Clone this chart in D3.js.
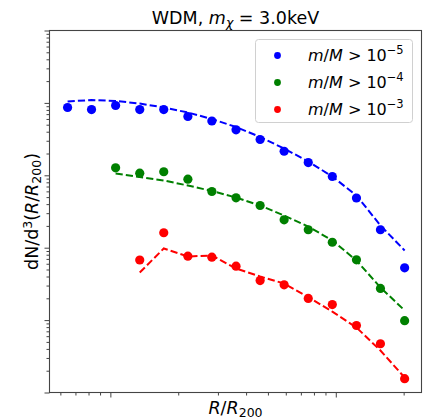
<!DOCTYPE html>
<html>
<head>
<meta charset="utf-8">
<script src="https://cdn.jsdelivr.net/npm/d3@7"></script>
<style>
  html, body { margin: 0; padding: 0; background: #fff; }
  svg { display: block; font-family: "DejaVu Sans", sans-serif; }
</style>
</head>
<body>
<svg id="chart" width="427" height="420"></svg>
<script>
// ---- data ----
const radii = [0.0646, 0.0825, 0.1055, 0.135, 0.1725, 0.2207, 0.282, 0.361, 0.4616, 0.590, 0.755, 0.965, 1.235, 1.578, 2.02];

const blueDots = [864, 810, 920, 810, 810, 649, 562, 425, 312, 215, 150, 96.2, 48.6, 17.7, 5.28];
const blueFit  = [1045, 1096, 1062, 981, 864, 737, 599, 465, 338, 234, 155, 96.2, 52.6, 20.3, 9.15];

const greenRadii = radii.slice(2);
const greenDots = [127, 107, 112, 88.3, 59.7, 48.9, 38.3, 24.3, 17.7, 11.9, 6.81, 2.74, 0.981];
const greenFit  = [106, 94.7, 84.8, 72.3, 60.7, 49.4, 38.3, 27.8, 19.6, 12.6, 6.66, 2.82, 1.36];

const redRadii = radii.slice(3);
const redDots = [6.76, 16.1, 7.63, 7.39, 5.55, 3.52, 3.07, 1.99, 1.64, 0.842, 0.471, 0.155];
const redFit  = [4.54, 9.75, 7.56, 7.80, 5.16, 4.00, 3.20, 2.08, 1.31, 0.79, 0.380, 0.161];

const seriesNames = ["m/M > 10^-5", "m/M > 10^-4", "m/M > 10^-3"];
const seriesExps = ["−5", "−4", "−3"];
const seriesColors = ["#0000ff", "#008000", "#ff0000"];

const xDomain = [0.0537, 2.40];
const yDomain = [0.1, 1e4];

// ---- layout ----
const svg = d3.select("#chart");
const L = 49.5, R = 421.5, T = 30.5, B = 392.5;

const x = d3.scaleLog().domain(xDomain).range([L, R]);
const y = d3.scaleLog().domain(yDomain).range([B, T]);

const series = [
  { r: radii, dots: blueDots, fitR: radii, fit: blueFit, color: seriesColors[0] },
  { r: greenRadii, dots: greenDots, fitR: greenRadii, fit: greenFit, color: seriesColors[1] },
  { r: redRadii, dots: redDots, fitR: redRadii, fit: redFit, color: seriesColors[2] }
];

// axes (ticks without labels)
const xMajor = x.ticks().filter(v => Math.abs(Math.log10(v) - Math.round(Math.log10(v))) < 1e-9);
const xAll = x.ticks();
const xMinor = xAll.filter(v => !xMajor.includes(v));
const yAll = y.ticks();
const yMajor = yAll.filter(v => Math.abs(Math.log10(v) - Math.round(Math.log10(v))) < 1e-9);
const yMinor = yAll.filter(v => !yMajor.includes(v));

const axisColor = "#444";

const gx = svg.append("g").attr("transform", `translate(0,${B})`);
gx.call(d3.axisBottom(x).tickValues(xMajor).tickSize(5).tickFormat(""));
const gxm = svg.append("g").attr("transform", `translate(0,${B})`);
gxm.call(d3.axisBottom(x).tickValues(xMinor).tickSize(3).tickFormat(""));
const gy = svg.append("g").attr("transform", `translate(${L},0)`);
gy.call(d3.axisLeft(y).tickValues(yMajor).tickSize(5).tickFormat(""));
const gym = svg.append("g").attr("transform", `translate(${L},0)`);
gym.call(d3.axisLeft(y).tickValues(yMinor).tickSize(3).tickFormat(""));
[gx, gxm, gy, gym].forEach(g => {
  g.select(".domain").remove();
  g.selectAll("line").attr("stroke", axisColor).attr("stroke-width", 1);
});

// frame
svg.append("rect")
  .attr("x", L).attr("y", T).attr("width", R - L).attr("height", B - T)
  .attr("fill", "none").attr("stroke", axisColor).attr("stroke-width", 1.1);

// data
const plot = svg.append("g");
series.forEach(s => {
  plot.append("g").selectAll("circle")
    .data(s.r.map((r, i) => [r, s.dots[i]]))
    .join("circle")
    .attr("cx", d => x(d[0]))
    .attr("cy", d => y(d[1]))
    .attr("r", 4.6)
    .attr("fill", s.color);
});
series.forEach(s => {
  const line = d3.line().x(d => x(d[0])).y(d => y(d[1]));
  plot.append("path")
    .attr("d", line(s.fitR.map((r, i) => [r, s.fit[i]])))
    .attr("fill", "none")
    .attr("stroke", s.color)
    .attr("stroke-width", 2)
    .attr("stroke-dasharray", "7.2,3.1");
});

// title
const title = svg.append("text")
  .attr("x", (L + R) / 2).attr("y", 23.5)
  .attr("text-anchor", "middle")
  .attr("font-size", 17.5).attr("fill", "#000");
title.append("tspan").text("WDM, ");
title.append("tspan").attr("font-style", "italic").text("m");
title.append("tspan").attr("font-style", "italic").attr("font-size", 12.5).attr("dy", 3.5).text("χ");
title.append("tspan").attr("dy", -3.5).text(" = 3.0keV");

// x label
const xl = svg.append("text")
  .attr("x", (L + R) / 2).attr("y", 413.5)
  .attr("text-anchor", "middle")
  .attr("font-size", 17.5).attr("fill", "#000");
xl.append("tspan").attr("font-style", "italic").text("R");
xl.append("tspan").text("/");
xl.append("tspan").attr("font-style", "italic").text("R");
xl.append("tspan").attr("font-size", 12.5).attr("dy", 3.5).text("200");

// y label
const yl = svg.append("text")
  .attr("transform", `translate(37.5,${(T + B) / 2}) rotate(-90)`)
  .attr("text-anchor", "middle")
  .attr("font-size", 17.5).attr("fill", "#000");
yl.append("tspan").text("dN/d");
yl.append("tspan").attr("font-size", 12.5).attr("dy", -6).text("3");
yl.append("tspan").attr("dy", 6).text("(");
yl.append("tspan").attr("font-style", "italic").text("R");
yl.append("tspan").text("/");
yl.append("tspan").attr("font-style", "italic").text("R");
yl.append("tspan").attr("font-size", 12.5).attr("dy", 3.5).text("200");
yl.append("tspan").attr("dy", -3.5).text(")");

// legend
const lg = svg.append("g");
lg.append("rect")
  .attr("x", 255.5).attr("y", 39.5).attr("width", 157).attr("height", 83)
  .attr("rx", 3).attr("fill", "#fff").attr("fill-opacity", 0.85)
  .attr("stroke", "#d0d0d0").attr("stroke-width", 1);
seriesNames.forEach((name, i) => {
  const cy = 55.5 + i * 27;
  lg.append("circle").attr("cx", 277.5).attr("cy", cy).attr("r", 3.4).attr("fill", seriesColors[i]);
  const t = lg.append("text").attr("x", 308).attr("y", cy + 5.5)
    .attr("font-size", 16).attr("fill", "#000");
  t.append("tspan").attr("font-style", "italic").text("m");
  t.append("tspan").text("/");
  t.append("tspan").attr("font-style", "italic").text("M");
  t.append("tspan").text(" > 10");
  t.append("tspan").attr("font-size", 11.5).attr("dy", -7).text(seriesExps[i]);
});
</script>
</body>
</html>
